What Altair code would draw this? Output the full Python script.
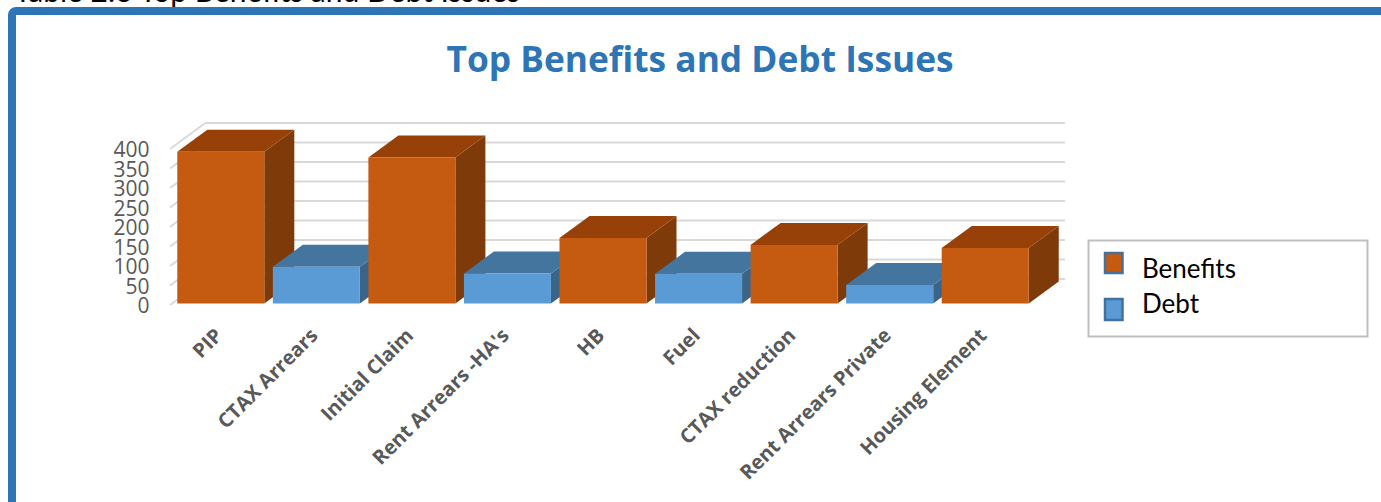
import altair as alt
import pandas as pd

# Survey counts per issue, left to right
categories = ["PIP", "CTAX Arrears", "Initial Claim", "Rent Arrears -HA's", "HB", "Fuel",
              "CTAX reduction", "Rent Arrears Private", "Housing Element"]
series = ["Benefits", "Debt", "Benefits", "Debt", "Benefits", "Debt", "Benefits", "Debt", "Benefits"]
values = [389, 94, 374, 77, 168, 76, 150, 47, 142]
y_ticks = [0, 50, 100, 150, 200, 250, 300, 350, 400]

# Shades for each box face
FRONT = {"Benefits": "#c55a11", "Debt": "#5b9bd5"}
TOP = {"Benefits": "#974109", "Debt": "#44759f"}
SIDE = {"Benefits": "#7f3a09", "Debt": "#3a6589"}
GRID = "#d9d9d9"
TEXT = "#595959"

# Plot area and projection of the fake third dimension, in scale units
WIDTH, HEIGHT = 860, 156
LEFT, TOP_PAD = 173, 149
X_DOMAIN = [0, 9]
Y_DOMAIN = [0, 400]
GAP = 0.0447
BAR_DX, BAR_DY = 0.314, 56.4
WALL_X0, WALL_X1 = -0.03, 9.335
WALL_DX, WALL_DY = 0.366, 66.5
FLOOR = 4

sx = alt.Scale(domain=X_DOMAIN, nice=False, zero=False)
sy = alt.Scale(domain=Y_DOMAIN, nice=False, zero=False)

label_lookup = "[" + ",".join('"' + c + '"' for c in categories) + "]"
x_axis = alt.Axis(
    values=[i + 0.5 for i in range(len(categories))],
    labelExpr=f"{label_lookup}[floor(datum.value)]",
    labelAngle=315, labelAlign="right", labelBaseline="middle",
    labelFont="Open Sans", labelFontSize=20, labelFontWeight="bold", labelColor=TEXT,
    labelPadding=27, labelOffset=-2, labelLimit=400,
    labelOverlap=False, labelBound=False, labelFlush=False,
    domain=False, ticks=False, grid=False, title=None,
)
y_axis = alt.Axis(
    values=y_ticks, labelFont="Open Sans", labelFontSize=21, labelColor=TEXT,
    labelPadding=24, labelOffset=1.5, labelOverlap=False, labelBound=False, labelFlush=False,
    domain=False, ticks=False, grid=False, title=None,
)


def X(field="x"):
    return alt.X(f"{field}:Q", scale=sx, axis=x_axis)


def Y(field="y"):
    return alt.Y(f"{field}:Q", scale=sy, axis=y_axis)


# Back wall gridlines and the short edges running to the front of the floor
walls = pd.DataFrame({"v": y_ticks})
walls["back"] = walls["v"] + WALL_DY
walls["x0"] = WALL_X0 + WALL_DX
walls["x1"] = WALL_X1
grid_back = alt.Chart(walls).mark_rule(color=GRID, strokeWidth=2).encode(
    x=X("x0"), x2="x1:Q", y=Y("back"))

edges = walls.copy()
edges["xa"] = WALL_X0
edges["xb"] = WALL_X0 + WALL_DX
grid_edge = alt.Chart(edges).mark_rule(color=GRID, strokeWidth=2).encode(
    x=X("xa"), x2="xb:Q", y=Y("v"), y2="back:Q")

layers = [grid_back, grid_edge]

# Boxes are painted left to right so each one overlaps its left neighbour
for i, (name, s, v) in enumerate(zip(categories, series, values)):
    xl, xr = i + GAP, i + 1 - GAP
    low, high = FLOOR, FLOOR + v
    front = pd.DataFrame([{"issue": name, "xl": xl, "xr": xr, "low": low, "high": high, "value": v}])
    side = pd.DataFrame({"x": [xr, xr + BAR_DX],
                         "y": [low, low + BAR_DY],
                         "y2": [high, high + BAR_DY]})
    top = pd.DataFrame({"y": [high, high + BAR_DY],
                        "x": [xl, xl + BAR_DX],
                        "x2": [xr, xr + BAR_DX]})
    layers.append(alt.Chart(side).mark_area(color=SIDE[s], orient="vertical").encode(
        x=X(), y=Y(), y2="y2:Q"))
    layers.append(alt.Chart(top).mark_area(color=TOP[s], orient="horizontal").encode(
        x=X(), x2="x2:Q", y=Y()))
    layers.append(alt.Chart(front).mark_rect(color=FRONT[s]).encode(
        x=X("xl"), x2="xr:Q", y=Y("low"), y2="high:Q"))


def px(v):
    return alt.value(v - LEFT)


def py(v):
    return alt.value(v - TOP_PAD)


dummy = pd.DataFrame({"a": [0]})

# Caption above the panel, cut off by the top of the page
caption = alt.Chart(dummy).mark_text(
    text="Table 2.6 Top Benefits and Debt Issues", align="left", baseline="alphabetic",
    font="Lato", fontSize=30, color="#000000",
).encode(x=px(14), y=py(2))

# Panel border
frame = alt.Chart(dummy).mark_rect(
    fillOpacity=0, stroke="#2e75b6", strokeWidth=8, cornerRadius=4,
).encode(x=px(12), x2=px(1500), y=py(11), y2=py(700))

# Chart heading inside the panel
heading = alt.Chart(dummy).mark_text(
    text="Top Benefits and Debt Issues", align="center", baseline="alphabetic",
    font="Open Sans", fontSize=35.3, fontWeight="bold", color="#2e75b6",
).encode(x=px(700), y=py(71.5))

# Legend box
legend_box = alt.Chart(dummy).mark_rect(
    fillOpacity=0, stroke="#bfbfbf", strokeWidth=2,
).encode(x=px(1088.5), x2=px(1367.5), y=py(240.5), y2=py(336.5))


def swatch(name, y0, y1):
    return alt.Chart(dummy).mark_rect(
        color=FRONT[name], stroke="#41719c", strokeWidth=2.5,
    ).encode(x=px(1105), x2=px(1122.5), y=py(y0), y2=py(y1))


def legend_label(name, base):
    return alt.Chart(dummy).mark_text(
        text=name, align="left", baseline="alphabetic", font="Lato", fontSize=26, color="#000000",
    ).encode(x=px(1142), y=py(base))


layers += [caption, frame, heading, legend_box,
           swatch("Benefits", 253, 273), swatch("Debt", 299, 320),
           legend_label("Benefits", 278), legend_label("Debt", 313)]

chart = alt.layer(*layers).properties(
    width=WIDTH, height=HEIGHT,
    padding={"left": LEFT, "top": TOP_PAD, "right": 1381 - LEFT - WIDTH, "bottom": 502 - TOP_PAD - HEIGHT},
    autosize=alt.AutoSizeParams(type="none"),
    background="white",
).configure_view(stroke=None)

chart.save("out.html", embed_options={"renderer": "svg", "actions": False})
